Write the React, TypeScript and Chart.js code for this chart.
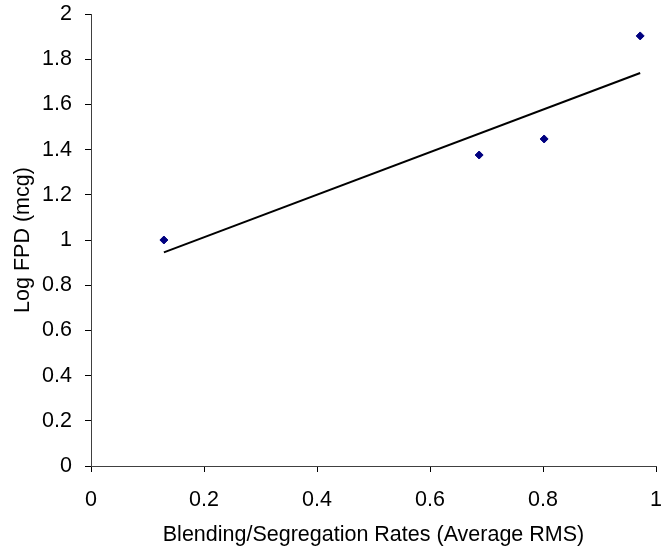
import React, { useEffect, useRef } from "react";
import { Chart, registerables } from "chart.js";

Chart.register(...registerables);

const pointX = [0.129, 0.687, 0.802, 0.972];
const pointY = [1.0, 1.376, 1.447, 1.903];
const trendX = [0.129, 0.972];
const trendY = [0.945, 1.739];

const xTitle = "Blending/Segregation Rates (Average RMS)";
const yTitle = "Log FPD (mcg)";

const FONT = "'Liberation Sans', Arial, sans-serif";
const FS = 21.5;

const fmt = (v: any) => String(Math.round(Number(v) * 10) / 10);

export default function App() {
  const ref = useRef<HTMLCanvasElement | null>(null);
  useEffect(() => {
    if (!ref.current) return;
    const chart = new Chart(ref.current, {
      type: "scatter",
      data: {
        datasets: [
          {
            label: "data",
            data: pointX.map((x, i) => ({ x, y: pointY[i] })),
            pointStyle: "rectRot",
            pointRadius: 4,
            backgroundColor: "#000080",
            borderColor: "#000080",
            borderWidth: 1,
            order: 1,
          },
          {
            label: "trend",
            data: trendX.map((x, i) => ({ x, y: trendY[i] })),
            showLine: true,
            pointRadius: 0,
            borderColor: "#000000",
            borderWidth: 2,
            order: 2,
          } as any,
        ],
      },
      options: {
        responsive: false,
        animation: false,
        layout: { padding: { top: 14, right: 9, left: 0, bottom: 0 } },
        plugins: { legend: { display: false }, tooltip: { enabled: false } },
        scales: {
          x: {
            type: "linear",
            min: 0,
            max: 1,
            ticks: { stepSize: 0.2, color: "#000", padding: 15, font: { family: FONT, size: FS }, callback: fmt },
            grid: { display: true, drawOnChartArea: false, drawTicks: true, tickLength: 6, color: "#000" },
            border: { display: true, color: "#404040", width: 1 },
            title: {
              display: true,
              text: xTitle,
              color: "#000",
              font: { family: FONT, size: FS },
              padding: { top: 0, bottom: 8 },
            },
            afterFit: (s: any) => {
              s.height = 90;
              s.paddingLeft = 0;
              s.paddingRight = 0;
            },
          },
          y: {
            type: "linear",
            min: 0,
            max: 2,
            ticks: { stepSize: 0.2, color: "#000", padding: 13, font: { family: FONT, size: FS }, callback: fmt },
            grid: { display: true, drawOnChartArea: false, drawTicks: true, tickLength: 6, color: "#000" },
            border: { display: true, color: "#404040", width: 1 },
            title: {
              display: true,
              text: yTitle,
              color: "#000",
              font: { family: FONT, size: FS },
              padding: { top: 10, bottom: 0 },
            },
            afterFit: (s: any) => {
              s.width = 91;
              s.paddingTop = 0;
              s.paddingBottom = 0;
            },
          },
        },
      },
    });
    return () => chart.destroy();
  }, []);
  return (
    <div style={{ position: "fixed", left: 0, top: 0, width: 665, height: 556, background: "#fff" }}>
      <canvas ref={ref} width={665} height={556} style={{ display: "block" }} />
    </div>
  );
}
